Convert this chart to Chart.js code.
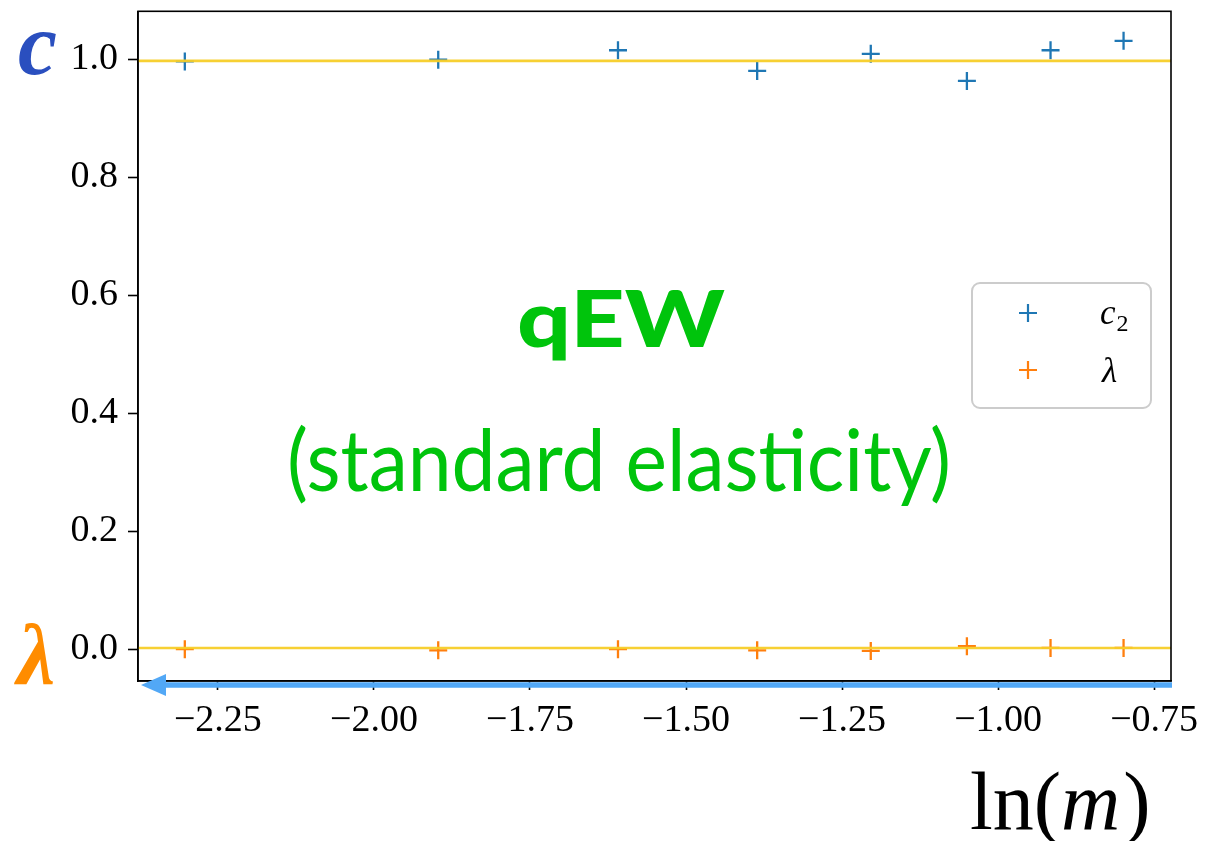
<!DOCTYPE html>
<html>
<head>
<meta charset="utf-8">
<script src="https://cdn.jsdelivr.net/npm/chart.js@4.4.1/dist/chart.umd.min.js"></script>
<style>
  html, body { margin: 0; padding: 0; background: #ffffff; }
  #wrap { position: relative; width: 1213px; height: 841px; }
  canvas { display: block; }
</style>
</head>
<body>
<div id="wrap"><canvas id="chart" width="1213" height="841"></canvas></div>
<script>
// ---- data ----
const lnM = [-2.303, -1.897, -1.609, -1.386, -1.204, -1.050, -0.916, -0.799];
const c2Values = [0.996, 0.999, 1.015, 0.980, 1.009, 0.963, 1.015, 1.031];
const lambdaValues = [0.000, -0.002, 0.000, -0.002, -0.003, 0.005, 0.002, 0.002];
const refLineValues = [0.997, 0.002];
const xTickValues = [-2.25, -2.00, -1.75, -1.50, -1.25, -1.00, -0.75];
const yTickValues = [0.0, 0.2, 0.4, 0.6, 0.8, 1.0];
const xRange = [-2.378, -0.723];
const yRange = [-0.054, 1.081];
const seriesLabels = ['c', 'λ'];

const blue = '#1f77b4';
const orange = '#ff7f0e';
const gold = 'rgba(247, 205, 40, 0.95)';

const pts = (vals) => lnM.map((x, i) => ({ x: x, y: vals[i] }));
const hline = (v) => [{ x: xRange[0], y: v }, { x: xRange[1], y: v }];

const minus = (s) => s.replace('-', '\u2212');

const decoPlugin = {
  id: 'deco',
  afterDraw(chart) {
    const ctx = chart.ctx;
    const a = chart.chartArea;
    ctx.save();
    // frame
    ctx.strokeStyle = '#000';
    ctx.lineWidth = 1.6;
    ctx.strokeRect(a.left, a.top, a.right - a.left, a.bottom - a.top);

    // blue arrow along the bottom
    const ay = a.bottom + 4;
    ctx.strokeStyle = '#52a8f6';
    ctx.fillStyle = '#52a8f6';
    ctx.lineWidth = 5.5;
    ctx.beginPath();
    ctx.moveTo(a.left + 22, ay);
    ctx.lineTo(a.right + 1, ay);
    ctx.stroke();
    ctx.beginPath();
    ctx.moveTo(a.left + 3, ay);
    ctx.lineTo(a.left + 28, ay - 11);
    ctx.lineTo(a.left + 28, ay + 11);
    ctx.closePath();
    ctx.fill();

    // side labels c and lambda
    const ys = chart.scales.y;
    ctx.textAlign = 'left';
    ctx.textBaseline = 'alphabetic';
    ctx.font = 'italic bold 88px "Liberation Serif", "DejaVu Serif", serif';
    ctx.fillStyle = '#2a4fbf';
    ctx.fillText('c', 18, ys.getPixelForValue(1.0) + 15);
    ctx.font = 'italic bold 86px "Liberation Serif", "DejaVu Serif", serif';
    ctx.fillStyle = '#ff8c00';
    ctx.fillText('λ', 17, ys.getPixelForValue(0.0) + 35);

    // x axis title
    ctx.fillStyle = '#000';
    ctx.font = '82px "Liberation Serif", serif';
    let x0 = 970;
    const base = 829;
    ctx.fillText('ln(', x0, base);
    x0 += ctx.measureText('ln(').width;
    ctx.font = 'italic 82px "Liberation Serif", serif';
    ctx.fillText('m', x0, base);
    x0 += ctx.measureText('m').width + 3;
    ctx.font = '82px "Liberation Serif", serif';
    ctx.fillText(')', x0, base);

    // central annotation
    const cx = 619;
    ctx.fillStyle = '#00c40c';
    ctx.textAlign = 'center';
    ctx.font = '900 78px Lato, "Open Sans", sans-serif';
    let w = ctx.measureText('qEW').width;
    ctx.save();
    ctx.translate(cx + 2, 347);
    ctx.scale(208 / w, 1);
    ctx.fillText('qEW', 0, 0);
    ctx.restore();

    ctx.font = '86px Lato, "Open Sans", sans-serif';
    w = ctx.measureText('(standard elasticity)').width;
    ctx.save();
    ctx.translate(cx, 491);
    ctx.scale(664 / w, 1);
    ctx.fillText('(standard elasticity)', 0, 0);
    ctx.restore();

    // legend
    const lx = 972, ly = 283, lw = 179, lh = 125, r = 8;
    ctx.beginPath();
    ctx.moveTo(lx + r, ly);
    ctx.arcTo(lx + lw, ly, lx + lw, ly + lh, r);
    ctx.arcTo(lx + lw, ly + lh, lx, ly + lh, r);
    ctx.arcTo(lx, ly + lh, lx, ly, r);
    ctx.arcTo(lx, ly, lx + lw, ly, r);
    ctx.closePath();
    ctx.fillStyle = 'rgba(255,255,255,0.8)';
    ctx.fill();
    ctx.strokeStyle = '#cccccc';
    ctx.lineWidth = 2;
    ctx.stroke();

    const marks = [[blue, 313], [orange, 370]];
    ctx.lineWidth = 2.2;
    marks.forEach(([col, my]) => {
      ctx.strokeStyle = col;
      ctx.beginPath();
      ctx.moveTo(1028 - 9, my); ctx.lineTo(1028 + 9, my);
      ctx.moveTo(1028, my - 9); ctx.lineTo(1028, my + 9);
      ctx.stroke();
    });
    ctx.fillStyle = '#000';
    ctx.textAlign = 'left';
    ctx.font = 'italic 35px "Liberation Serif", serif';
    ctx.fillText(seriesLabels[0], 1100, 324);
    const cw = ctx.measureText(seriesLabels[0]).width;
    ctx.font = '24px "Liberation Serif", serif';
    ctx.fillText('2', 1100 + cw + 1, 331);
    ctx.font = 'italic 35px "Liberation Serif", serif';
    ctx.fillText(seriesLabels[1], 1102, 382);
    ctx.restore();
  }
};

new Chart(document.getElementById('chart'), {
  type: 'scatter',
  data: {
    datasets: [
      { label: 'fit c', data: hline(refLineValues[0]), type: 'line', showLine: true,
        borderColor: gold, borderWidth: 2.6, pointRadius: 0, fill: false },
      { label: 'fit λ', data: hline(refLineValues[1]), type: 'line', showLine: true,
        borderColor: gold, borderWidth: 2.6, pointRadius: 0, fill: false },
      { label: 'c2', data: pts(c2Values), pointStyle: 'cross', pointRadius: 9,
        borderColor: blue, backgroundColor: blue, borderWidth: 2.3 },
      { label: 'λ', data: pts(lambdaValues), pointStyle: 'cross', pointRadius: 9,
        borderColor: orange, backgroundColor: orange, borderWidth: 2.3 }
    ]
  },
  options: {
    responsive: false,
    animation: false,
    events: [],
    layout: { padding: { left: 0, right: 42, top: 10, bottom: 0 } },
    plugins: { legend: { display: false }, tooltip: { enabled: false } },
    scales: {
      x: {
        type: 'linear', min: xRange[0], max: xRange[1],
        afterBuildTicks: (s) => { s.ticks = xTickValues.map(v => ({ value: v })); },
        afterFit: (s) => { s.height = 160; s.paddingLeft = 0; s.paddingRight = 0; },
        grid: { drawOnChartArea: false, drawTicks: true, tickLength: 9, color: '#000', tickColor: '#000', tickWidth: 1.6 },
        border: { display: true, color: '#000', width: 1.6 },
        ticks: {
          color: '#000', padding: 8, maxRotation: 0, autoSkip: false,
          font: { family: '"Liberation Serif", "Times New Roman", serif', size: 38 },
          callback: (v) => minus(Number(v).toFixed(2))
        }
      },
      y: {
        type: 'linear', min: yRange[0], max: yRange[1],
        afterBuildTicks: (s) => { s.ticks = yTickValues.map(v => ({ value: v })); },
        afterFit: (s) => { s.width = 138; s.paddingTop = 0; s.paddingBottom = 0; },
        grid: { drawOnChartArea: false, drawTicks: true, tickLength: 10, color: '#000', tickColor: '#000', tickWidth: 1.6 },
        border: { display: true, color: '#000', width: 1.6 },
        ticks: {
          color: '#000', padding: 10, autoSkip: false,
          font: { family: '"Liberation Serif", "Times New Roman", serif', size: 38 },
          callback: (v) => minus(Number(v).toFixed(1))
        }
      }
    }
  },
  plugins: [decoPlugin]
});
</script>
</body>
</html>
